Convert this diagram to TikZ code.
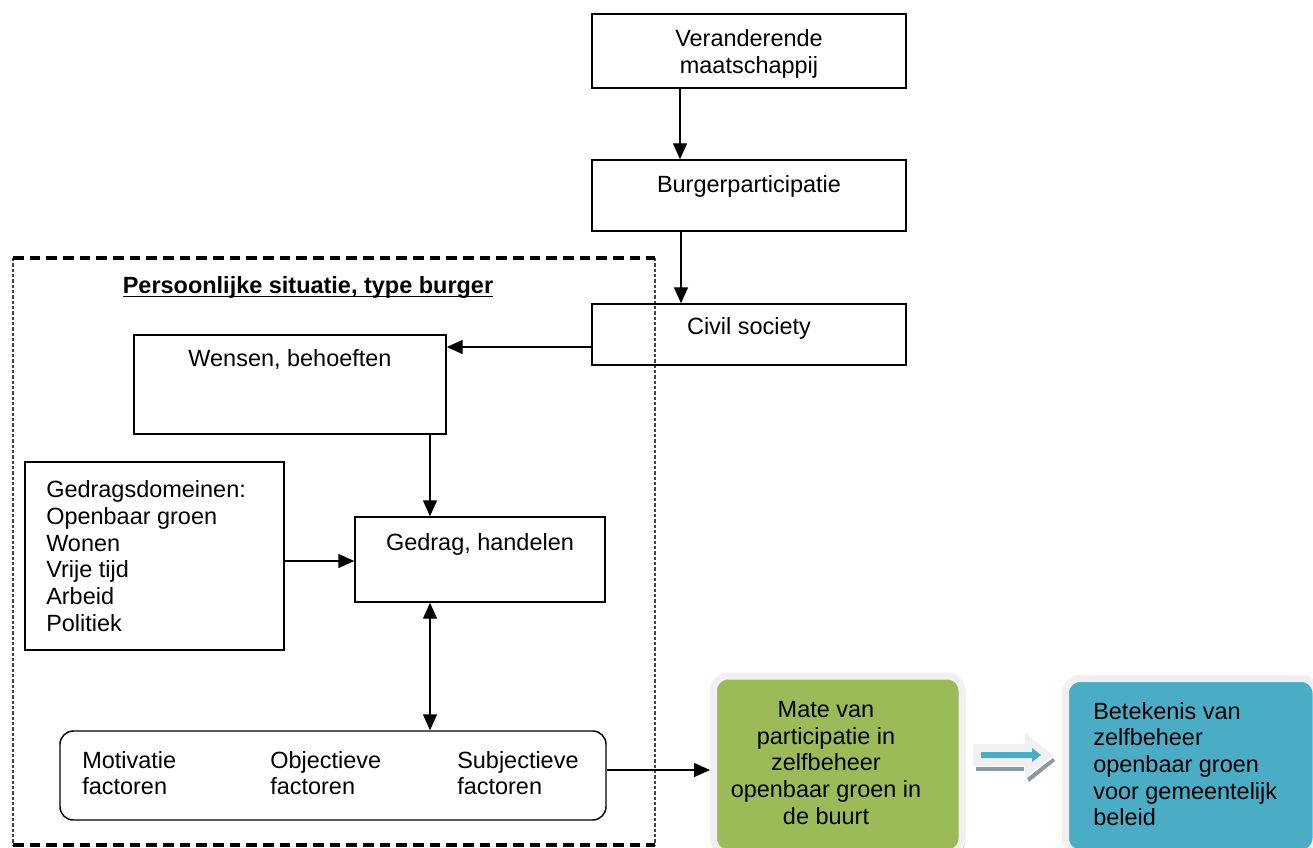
\documentclass[tikz,border=0pt]{standalone}
\usepackage{fontspec}
\setmainfont{Liberation Sans}
\usetikzlibrary{arrows.meta,fit,calc}
\definecolor{grn}{HTML}{9BBB59}
\definecolor{blu}{HTML}{4BACC6}
\definecolor{rim}{HTML}{F0F0F0}
\definecolor{shd}{HTML}{8A9AA5}
\definecolor{sidegray}{HTML}{444444}
\newcommand\dgfont{\fontsize{17.6pt}{20pt}\selectfont}
\begin{document}
\begin{tikzpicture}[x=0.75pt,y=-0.75pt,
  every node/.style={font=\dgfont},
  box/.style={draw, line width=1.1pt, inner sep=0pt, rectangle},
  txt/.style={inner sep=0pt, align=center},
  ltxt/.style={inner sep=0pt, align=left, anchor=west},
  arr/.style={line width=1.1pt, -{Triangle[length=12pt,width=10.5pt]}},
  darr/.style={line width=1.1pt, {Triangle[length=12pt,width=10.5pt]}-{Triangle[length=12pt,width=10.5pt]}},
  topdash/.style={line width=3pt, dash pattern=on 8pt off 4.5pt},
  sidedash/.style={line width=0.9pt, sidegray, dash pattern=on 2.5pt off 1.5pt},
]
\useasboundingbox (0,0) rectangle (1313,848);

% dashed frame
\draw[sidedash] (13,258) -- (13,846);
\draw[sidedash] (655,258) -- (655,846);
\draw[topdash] (13,258) -- (655,258);
\draw[topdash] (13,845) -- (655,845);

% boxes
\node[box, fit={(592,14) (906,88)}] (vm) {};
\node[box, fit={(592,160) (906,231)}] (bp) {};
\node[box, fit={(592,304) (906,365)}] (cs) {};
\node[box, fit={(134,335) (446,434)}] (wb) {};
\node[box, fit={(25,462) (284,650)}] (gd) {};
\node[box, fit={(355,517) (605,602)}] (gh) {};
\node[box, rounded corners=10pt, fit={(60,731) (606,820)}] (fa) {};

% texts
\node[txt] at (749,54) {Veranderende\\maatschappij};
\node[txt] at (749,186) {Burgerparticipatie};
\node[txt] at (749,328) {Civil society};
\node[txt] at (290,359) {Wensen, behoeften};
\node[txt] at (480,544) {Gedrag, handelen};
\node[ltxt] at (46,556) {Gedragsdomeinen:\\Openbaar groen\\Wonen\\Vrije tijd\\Arbeid\\Politiek};
\node[ltxt] at (82,773) {Motivatie\\factoren};
\node[ltxt] at (270,773) {Objectieve\\factoren};
\node[ltxt] at (457,773) {Subjectieve\\factoren};
\node[txt, font=\dgfont\bfseries] (title) at (308,287) {Persoonlijke situatie, type burger};
\draw[line width=1.2pt] ([yshift=-2.5pt]title.base west) -- ([yshift=-2.5pt]title.base east);

% green and blue boxes
\fill[gray!45, rounded corners=11pt] (716,680) rectangle (965,856);
\node[fit={(713.5,676) (962,853)}, inner sep=0pt, fill=grn, draw=rim, line width=5.25pt, rounded corners=11pt] (mp) {};
\node[txt] at (826,763) {Mate van\\participatie in\\zelfbeheer\\openbaar groen in\\de buurt};
\fill[gray!45, rounded corners=11pt] (1068,682) rectangle (1320,856);
\node[fit={(1065.5,678.5) (1316,853)}, inner sep=0pt, fill=blu, draw=rim, line width=5.25pt, rounded corners=11pt] (bz) {};
\node[ltxt] at (1093,764) {Betekenis van\\zelfbeheer\\openbaar groen\\voor gemeentelijk\\beleid};

% block arrow
\fill[shd] (976,767) rectangle (1024,771);
\fill[shd] (1027,778) -- (1053,758) -- (1055,761) -- (1029,782) -- cycle;
\fill[rim] (973,744) -- (1025,744) -- (1025,733) -- (1053,755) -- (1025,778) -- (1025,766) -- (973,766) -- cycle;
\fill[blu] (981,752) -- (1032,752) -- (1032,748) -- (1041,755) -- (1032,762) -- (1032,758) -- (981,758) -- cycle;

% connectors
\coordinate (x1) at (680,0);
\coordinate (x2) at (681,0);
\coordinate (x3) at (430,0);
\coordinate (y1) at (0,347);
\coordinate (y2) at (0,561);
\coordinate (y3) at (0,770);
\draw[arr] (vm.south -| x1) -- (bp.north -| x1);
\draw[arr] (bp.south -| x2) -- (cs.north -| x2);
\draw[arr] (cs.west |- y1) -- (wb.east |- y1);
\draw[arr] (wb.south -| x3) -- (gh.north -| x3);
\draw[arr] (gd.east |- y2) -- (gh.west |- y2);
\draw[darr] (gh.south -| x3) -- (fa.north -| x3);
\draw[arr] (fa.east |- y3) -- (mp.west |- y3);
\end{tikzpicture}
\end{document}
